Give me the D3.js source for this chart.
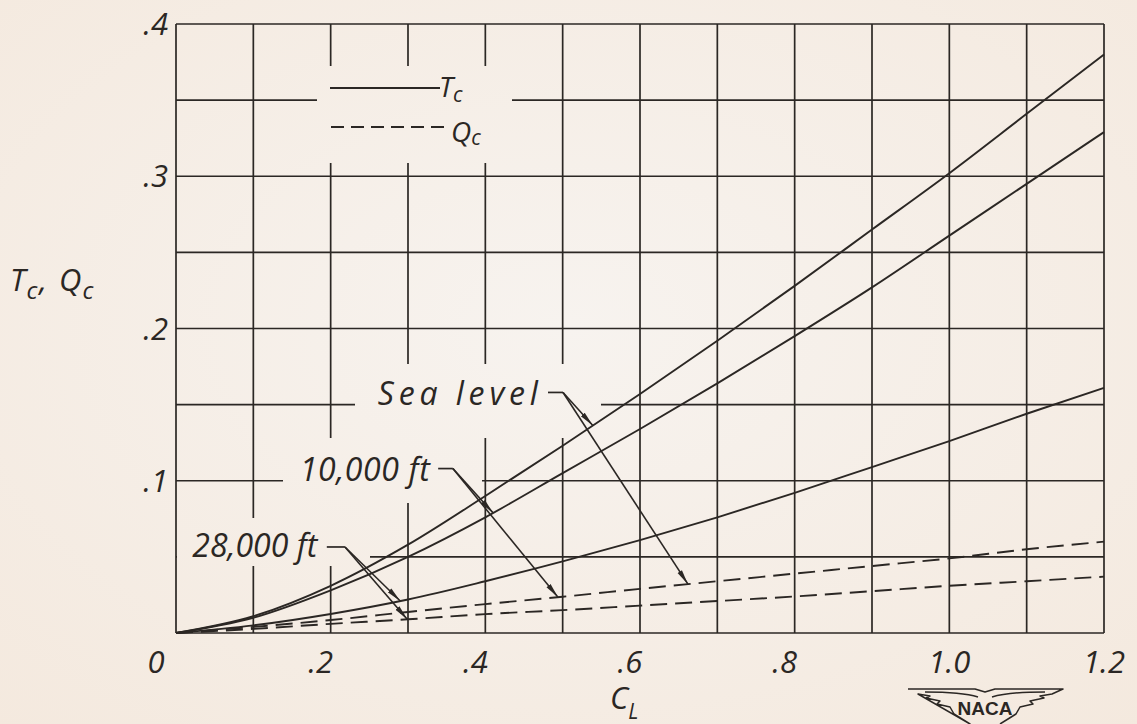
<!DOCTYPE html>
<meta charset="utf-8">
<style>
  body { margin: 0; background: #f5eee6; }
  text { font-family: "Open Sans", "DejaVu Sans", sans-serif; font-style: italic; font-weight: 400; fill: #2b2724; }
  text.logo { font-style: normal; font-weight: 700; font-family: "Liberation Sans", "DejaVu Sans", sans-serif; }
</style>
<body>
<div class="chart"></div>
<script src="https://d3js.org/d3.v7.min.js"></script>
<script>
// lift coefficient stations
const cl = [0, .1, .2, .3, .4, .5, .6, .7, .8, .9, 1.0, 1.1, 1.2];
// thrust coefficient Tc (solid)
const tcSea = [0, .011, .031, .058, .090, .123, .157, .192, .228, .265, .302, .341, .380];
const tc10k = [0, .010, .028, .050, .076, .105, .134, .164, .195, .227, .261, .295, .329];
const tc28k = [0, .005, .0125, .022, .034, .047, .061, .076, .092, .109, .126, .144, .161];
// torque coefficient Qc (dashed)
const qcSea = [0, .004, .0085, .0138, .019, .0238, .029, .034, .039, .044, .049, .055, .060];
const qc28k = [0, .0027, .006, .009, .0124, .015, .018, .021, .024, .0275, .031, .034, .037];

const xTicks = [0, .2, .4, .6, .8, 1.0, 1.2];
const xTickLabels = ["0", ".2", ".4", ".6", ".8", "1.0", "1.2"];
const yTicks = [.1, .2, .3, .4];
const yTickLabels = [".1", ".2", ".3", ".4"];

const series = [
  {key: "tcSea", values: tcSea, dashed: false},
  {key: "tc10k", values: tc10k, dashed: false},
  {key: "tc28k", values: tc28k, dashed: false},
  {key: "qcSea", values: qcSea, dashed: true},
  {key: "qc28k", values: qc28k, dashed: true}
];

// which curve each leader points at, and where (CL)
const annotations = [
  {label: "Sea level", at: [0.261, 0.150], len: 160, dash: [0.481, 0.5005, 0.158], tips: [["tcSea", 0.539], ["qcSea", 0.662]]},
  {label: "10,000 ft", at: [0.160, 0.100], len: 130, dash: [0.339, 0.358, 0.108], tips: [["tc10k", 0.41], ["qcSea", 0.494]]},
  {label: "28,000 ft", at: [0.021, 0.050], len: 125, dash: [0.195, 0.2185, 0.0565], tips: [["tc28k", 0.29], ["qc28k", 0.299]]}
];

const width = 1137, height = 724;
const ink = "#2b2724";

const x = d3.scaleLinear().domain([0, 1.2]).range([176, 1104]);
const y = d3.scaleLinear().domain([0, 0.4]).range([633, 24]);

const svg = d3.select(".chart").append("svg")
  .attr("width", width).attr("height", height);

const defs = svg.append("defs");
const bg = defs.append("radialGradient").attr("id", "paper")
  .attr("cx", "50%").attr("cy", "45%").attr("r", "75%");
bg.append("stop").attr("offset", "0%").attr("stop-color", "#f7f3ef");
bg.append("stop").attr("offset", "100%").attr("stop-color", "#f4e9de");

defs.append("marker").attr("id", "arrow")
  .attr("markerUnits", "userSpaceOnUse")
  .attr("viewBox", "0 -4 15 8").attr("refX", 15).attr("refY", 0)
  .attr("markerWidth", 15).attr("markerHeight", 8).attr("orient", "auto")
  .append("path").attr("d", "M0,-2.6L15,0L0,2.6Z").attr("fill", ink);

// gaps in the grid where the lettering sits
const gaps = [
  [317, 66, 512, 163],
  [355, 364, 601, 438],
  [283, 438, 482, 503],
  [320, 503, 340, 518],
  [177, 518, 370, 566]
];
const mask = defs.append("mask").attr("id", "gridMask").attr("maskUnits", "userSpaceOnUse")
  .attr("x", 0).attr("y", 0).attr("width", width).attr("height", height);
mask.append("rect").attr("width", width).attr("height", height).attr("fill", "#fff");
mask.selectAll("rect.gap").data(gaps).join("rect").attr("class", "gap")
  .attr("x", d => d[0]).attr("y", d => d[1])
  .attr("width", d => d[2] - d[0]).attr("height", d => d[3] - d[1])
  .attr("fill", "#000");

svg.append("rect").attr("width", width).attr("height", height).attr("fill", "url(#paper)");

// grid
const grid = svg.append("g").attr("mask", "url(#gridMask)")
  .attr("stroke", ink).attr("stroke-width", 1.7);
grid.selectAll("line.v").data(d3.range(0, 13).map(i => i / 10)).join("line").attr("class", "v")
  .attr("x1", d => x(d)).attr("x2", d => x(d)).attr("y1", y(0)).attr("y2", y(0.4));
grid.selectAll("line.h").data(d3.range(0, 9).map(i => i / 20)).join("line").attr("class", "h")
  .attr("y1", d => y(d)).attr("y2", d => y(d)).attr("x1", x(0)).attr("x2", x(1.2));

// tick labels
svg.append("g").selectAll("text").data(xTicks).join("text")
  .attr("x", (d, i) => x(d) + (xTickLabels[i] === "0" ? -20 : xTickLabels[i][0] === "." ? -10 : 0))
  .attr("y", 673).attr("text-anchor", "middle").attr("font-size", 31)
  .text((d, i) => xTickLabels[i]);
svg.append("g").selectAll("text").data(yTicks).join("text")
  .attr("x", 168).attr("y", d => y(d) + 11).attr("text-anchor", "end").attr("font-size", 31)
  .text((d, i) => yTickLabels[i]);

// axis titles
const yt = svg.append("text").attr("x", 10).attr("y", 291).attr("font-size", 31);
yt.append("tspan").text("T");
yt.append("tspan").attr("font-size", 24).attr("dy", 8).attr("dx", 1).text("c");
yt.append("tspan").attr("dy", -8).attr("dx", 2).text(",");
yt.append("tspan").attr("dx", 12).text("Q");
yt.append("tspan").attr("font-size", 24).attr("dy", 8).attr("dx", 1).text("c");

const xt = svg.append("text").attr("x", 610).attr("y", 709).attr("font-size", 31);
xt.append("tspan").text("C");
xt.append("tspan").attr("font-size", 21).attr("dy", 10).text("L");

// curves
const line = d3.line().x((d, i) => x(cl[i])).y(d => y(d)).curve(d3.curveMonotoneX);
svg.append("g").selectAll("path").data(series).join("path")
  .attr("d", d => line(d.values))
  .attr("fill", "none").attr("stroke", ink).attr("stroke-width", 1.9)
  .attr("stroke-dasharray", d => d.dashed ? "17 8" : null);

// legend
const lg = svg.append("g");
lg.append("line").attr("x1", 330).attr("x2", 440).attr("y1", 88).attr("y2", 88)
  .attr("stroke", ink).attr("stroke-width", 1.9);
lg.append("line").attr("x1", 331).attr("x2", 448).attr("y1", 127).attr("y2", 127)
  .attr("stroke", ink).attr("stroke-width", 1.9).attr("stroke-dasharray", "13 7");
const lt = lg.append("text").attr("x", 439).attr("y", 97).attr("font-size", 28);
lt.append("tspan").text("T");
lt.append("tspan").attr("font-size", 21).attr("dy", 5).text("c");
const lq = lg.append("text").attr("x", 451).attr("y", 142).attr("font-size", 28);
lq.append("tspan").text("Q");
lq.append("tspan").attr("font-size", 21).attr("dy", 3).text("c");

// annotations with leaders
const byKey = Object.fromEntries(series.map(s => [s.key, s.values]));
const valueAt = (vals, c) => {
  const i = Math.min(cl.length - 2, Math.floor(c / 0.1));
  const t = (c - cl[i]) / (cl[i + 1] - cl[i]);
  return vals[i] + t * (vals[i + 1] - vals[i]);
};
const ann = svg.append("g");
annotations.forEach(a => {
  ann.append("text").attr("x", x(a.at[0])).attr("y", y(a.at[1]))
    .attr("font-size", 32).attr("textLength", a.len).attr("lengthAdjust", "spacing")
    .text(a.label);
  const jx = x(a.dash[1]), jy = y(a.dash[2]);
  ann.append("line").attr("x1", x(a.dash[0])).attr("x2", jx).attr("y1", jy).attr("y2", jy)
    .attr("stroke", ink).attr("stroke-width", 1.7);
  a.tips.forEach(([k, c]) => {
    ann.append("line").attr("x1", jx).attr("y1", jy)
      .attr("x2", x(c)).attr("y2", y(valueAt(byKey[k], c)))
      .attr("stroke", ink).attr("stroke-width", 1.6).attr("marker-end", "url(#arrow)");
  });
});

// NACA wings
const logo = svg.append("g").attr("fill", "none").attr("stroke", ink).attr("stroke-width", 1.5)
  .attr("stroke-linejoin", "round");
logo.append("path").attr("d",
  "M908,689 L975,689 L985,692 L995,689 L1063,689 " +
  "L1052,694 L1040,696 L1044,698 L1030,701 L1033,704 L1020,707 L1016,714 L1008,719 L1000,724 " +
  "M970,724 L962,719 L954,714 L950,707 L937,704 L940,701 L926,698 L930,696 L918,694 Z");
logo.append("path").attr("d", "M925,692 C945,692 965,693 978,697 M992,697 C1005,693 1025,692 1045,692");
svg.append("text").attr("class", "logo").attr("x", 985).attr("y", 715).attr("text-anchor", "middle")
  .attr("font-size", 19).text("NACA");
</script>
